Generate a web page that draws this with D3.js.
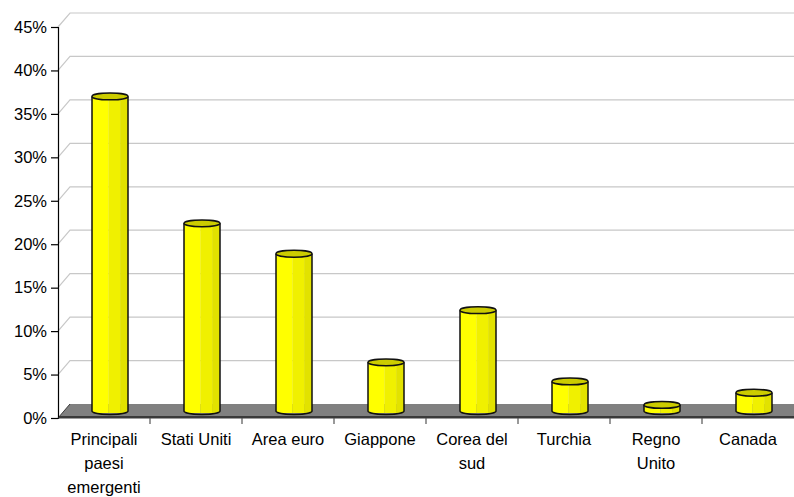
<!DOCTYPE html>
<html>
<head>
<meta charset="utf-8">
<script src="https://cdn.jsdelivr.net/npm/d3@7"></script>
<style>
  html, body { margin: 0; padding: 0; background: #fff; }
  svg { display: block; font-family: "Liberation Sans", Arial, sans-serif; }
</style>
</head>
<body>
<svg id="chart" width="794" height="497"></svg>
<script>
// Categories and their shares
const categories = [
  ["Principali", "paesi", "emergenti"],
  ["Stati Uniti"],
  ["Area euro"],
  ["Giappone"],
  ["Corea del", "sud"],
  ["Turchia"],
  ["Regno", "Unito"],
  ["Canada"]
];
const values = [0.362, 0.216, 0.181, 0.056, 0.116, 0.034, 0.007, 0.021];
const yTicks = [0, 0.05, 0.10, 0.15, 0.20, 0.25, 0.30, 0.35, 0.40, 0.45];

const W = 794, H = 497;
const plotLeft = 58, plotRight = 794, plotBottom = 418, plotTop = 27;
const depthX = 12, depthY = -14;   // 3D depth offset of the back wall
const fontSize = "16.5px";
const svg = d3.select("#chart");

const keys = categories.map((c, i) => i);
const x = d3.scaleBand().domain(keys).range([plotLeft, plotRight]).padding(0);
const y = d3.scaleLinear().domain([0, 0.45]).range([plotBottom, plotTop]);

// Gridlines on the back wall with diagonal connectors to the axis
const grid = svg.append("g");
yTicks.filter(t => t > 0).forEach(t => {
  const yy = y(t);
  grid.append("path")
    .attr("d", `M${plotLeft},${yy}L${plotLeft + depthX},${yy + depthY}L${W},${yy + depthY}`)
    .attr("fill", "none")
    .attr("stroke", "#c8c8c8")
    .attr("stroke-width", 1.2);
});

// Floor
svg.append("path")
  .attr("d", `M${plotLeft},${plotBottom}L${plotLeft + depthX},${plotBottom + depthY}L${W},${plotBottom + depthY}L${W},${plotBottom}Z`)
  .attr("fill", "#808080");
svg.append("line")
  .attr("x1", plotLeft).attr("x2", W).attr("y1", plotBottom - 1).attr("y2", plotBottom - 1)
  .attr("stroke", "#3a3a3a").attr("stroke-width", 2);
svg.append("line")
  .attr("x1", plotLeft).attr("y1", plotBottom).attr("x2", plotLeft + depthX).attr("y2", plotBottom + depthY)
  .attr("stroke", "#3a3a3a").attr("stroke-width", 1);

// Bars: octagonal columns standing in the middle of the floor depth
const barW = 36, capRy = 3.4;
const midX = depthX / 2, midY = depthY / 2;
const bars = svg.append("g");
values.forEach((v, i) => {
  const cx = x(i) + x.bandwidth() / 2 + midX;
  const x0 = cx - barW / 2, x1 = cx + barW / 2;
  const yTop = y(v) + midY;
  const yBase = y(0) + midY;
  const g = bars.append("g");
  const faces = [
    [x0, x0 + barW * 0.45, "#ffff00"],
    [x0 + barW * 0.45, x0 + barW * 0.78, "#f0f000"],
    [x0 + barW * 0.78, x1, "#e2e200"]
  ];
  faces.forEach(([a, b, col]) => {
    g.append("path")
      .attr("d", `M${a},${yTop}L${b},${yTop}L${b},${yBase + capRy * 0.6}L${a},${yBase + capRy * 0.6}Z`)
      .attr("fill", col);
  });
  // outline of body with rounded front bottom
  g.append("path")
    .attr("d", `M${x0},${yTop}L${x0},${yBase}A${barW / 2},${capRy} 0 0 0 ${x1},${yBase}L${x1},${yTop}`)
    .attr("fill", "none")
    .attr("stroke", "#111")
    .attr("stroke-width", 1.5);
  // top cap
  g.append("ellipse")
    .attr("cx", cx).attr("cy", yTop)
    .attr("rx", barW / 2).attr("ry", capRy)
    .attr("fill", "#cccc00")
    .attr("stroke", "#111")
    .attr("stroke-width", 1.5);
});

// Value axis
const yAxis = svg.append("g").attr("transform", `translate(${plotLeft},0)`)
  .call(d3.axisLeft(y).tickValues(yTicks).tickSize(7).tickPadding(4)
    .tickFormat(d => Math.round(d * 100) + "%"));
yAxis.select(".domain").attr("stroke", "#000").attr("stroke-width", 1.2);
yAxis.selectAll(".tick line").attr("stroke", "#000").attr("stroke-width", 1.2);
yAxis.selectAll(".tick text")
  .attr("fill", "#000")
  .style("font-size", fontSize)
  .style("font-family", "'Liberation Sans', Arial, sans-serif");

// Category axis
const xAxis = svg.append("g").attr("transform", `translate(0,${plotBottom})`);
xAxis.append("line").attr("x1", plotLeft).attr("x2", W).attr("y1", 0).attr("y2", 0)
  .attr("stroke", "#3a3a3a").attr("stroke-width", 1);
keys.slice(1).forEach(k => {
  xAxis.append("line")
    .attr("x1", x(k)).attr("x2", x(k)).attr("y1", 0).attr("y2", 6)
    .attr("stroke", "#555").attr("stroke-width", 1.2);
});
keys.forEach(k => {
  const t = xAxis.append("text")
    .attr("x", x(k) + x.bandwidth() / 2)
    .attr("y", 27)
    .attr("text-anchor", "middle")
    .attr("fill", "#000")
    .style("font-size", fontSize);
  categories[k].forEach((line, j) => {
    t.append("tspan")
      .attr("x", x(k) + x.bandwidth() / 2)
      .attr("dy", j === 0 ? 0 : 24)
      .text(line);
  });
});
</script>
</body>
</html>
